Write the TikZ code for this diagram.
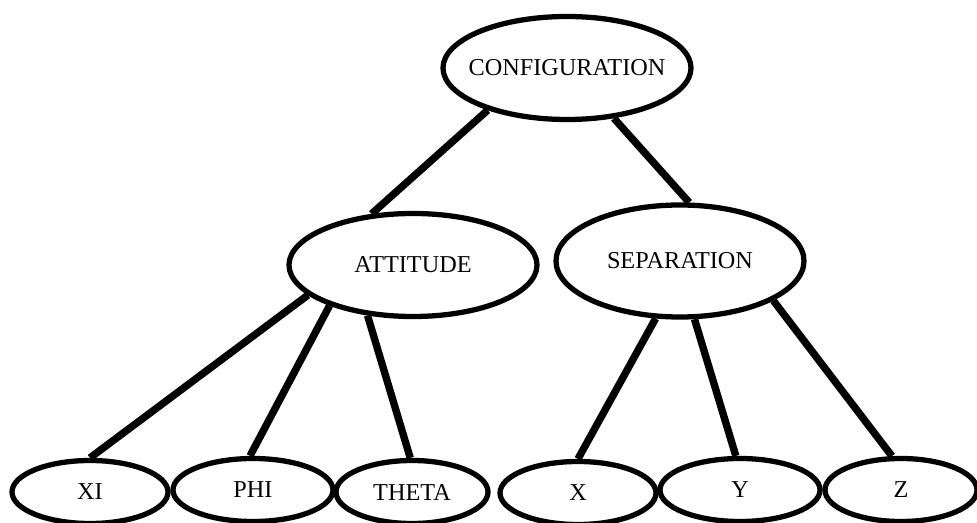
\documentclass[tikz,border=0pt]{standalone}
\usepackage{fontspec}
\setmainfont{Liberation Serif}
\usetikzlibrary{shapes.geometric}

\begin{document}
\begin{tikzpicture}[
    oval/.style={ellipse, draw, line width=3pt, inner sep=0pt,
      font=\fontsize{13.8}{15}\selectfont},
    big oval/.style={oval, minimum width=4.96cm, minimum height=2.06cm},
    small oval/.style={oval, minimum width=3.12cm, minimum height=1.26cm},
    branch/.style={line width=4.2pt}]
  \useasboundingbox (0,0) rectangle (19.54,-10.46);

  % the long label would widen the ellipse, so it gets a zero-width box
  \node[big oval] (config) at (11.34,-1.36) {\makebox[0pt]{CONFIGURATION}};
  \node[big oval] (att) at (8.26,-5.30) {ATTITUDE};
  \node[big oval, minimum height=2.24cm] (sep) at (13.60,-5.22) {\makebox[0pt]{SEPARATION}};

  \node[small oval] (xi) at (1.80,-9.84) {XI};
  \node[small oval, minimum width=3.2cm] (phi) at (5.06,-9.80) {PHI};
  \node[small oval, minimum width=3.04cm] (theta) at (8.24,-9.84) {THETA};
  \node[small oval] (x) at (11.56,-9.86) {X};
  \node[small oval, minimum width=3.2cm] (y) at (14.80,-9.80) {Y};
  \node[small oval, minimum width=3.04cm] (z) at (18.02,-9.80) {Z};

  \draw[branch] (config.208) -- (att.129);
  \draw[branch] (config.313) -- (sep.81);

  \draw[branch] (att.196) -- (xi.90);
  \draw[branch] (att.206) -- (phi.95);
  \draw[branch] (att.228) -- (theta.93);

  \draw[branch] (sep.247) -- (x.90);
  \draw[branch] (sep.284) -- (y.97);
  \draw[branch] (sep.337) -- (z.105);
\end{tikzpicture}
\end{document}
